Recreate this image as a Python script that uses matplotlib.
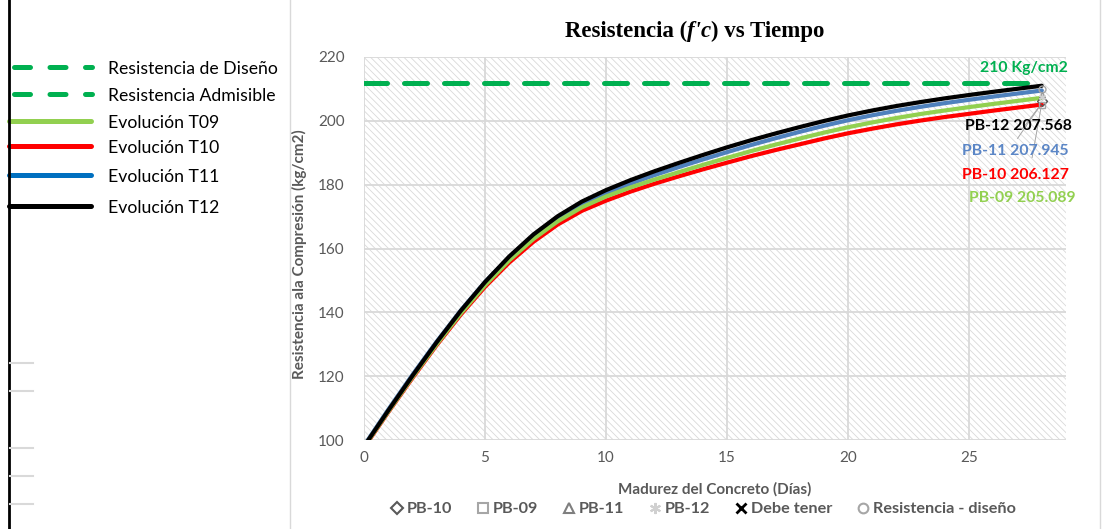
import matplotlib.pyplot as plt
import numpy as np
from matplotlib.lines import Line2D
from matplotlib.patches import Rectangle

# ---- data ----
days = list(range(29))
evol_t09 = [97.8, 108.9, 119.7, 130.0, 139.7, 148.5, 156.3, 163.0, 168.5, 172.9,
            176.3, 179.1, 181.6, 183.9, 186.2, 188.4, 190.55, 192.55, 194.45, 196.3,
            198.0, 199.5, 200.9, 202.15, 203.25, 204.3, 205.3, 206.25, 207.2]
evol_t10 = [97.6, 108.7, 119.4, 129.7, 139.3, 148.0, 155.6, 162.1, 167.5, 171.8,
            175.0, 177.8, 180.3, 182.6, 184.8, 186.9, 188.95, 190.85, 192.65, 194.45,
            196.1, 197.55, 198.9, 200.1, 201.2, 202.2, 203.2, 204.15, 205.1]
evol_t11 = [98.2, 109.5, 120.4, 130.8, 140.6, 149.5, 157.3, 164.0, 169.5, 173.9,
            177.3, 180.3, 183.0, 185.5, 187.9, 190.2, 192.45, 194.55, 196.55, 198.45,
            200.2, 201.75, 203.15, 204.4, 205.55, 206.6, 207.6, 208.55, 209.5]
evol_t12 = [98.0, 109.2, 120.1, 130.6, 140.5, 149.5, 157.5, 164.4, 170.1, 174.7,
            178.3, 181.4, 184.2, 186.8, 189.3, 191.7, 193.95, 196.05, 198.05, 199.95,
            201.7, 203.25, 204.65, 205.9, 207.05, 208.1, 209.1, 210.05, 211.0]

design_days = [0, 28]
design_value = [212, 212]

# test results at 28 days
pb_names = ['PB-10', 'PB-09', 'PB-11', 'PB-12']
pb_values = [206.127, 205.089, 207.945, 207.568]
debe_tener = 210
test_day = 28

xticks = [0, 5, 10, 15, 20, 25]
yticks = [100, 120, 140, 160, 180, 200, 220]

GRAY = '#595959'
GREEN = '#00B050'
FONT = 'Lato'

plt.rcParams['font.family'] = [FONT, 'DejaVu Sans']
plt.rcParams['hatch.color'] = '#D9D9D9'
plt.rcParams['hatch.linewidth'] = 0.6

W, H = 1113, 529
fig = plt.figure(figsize=(W / 100, H / 100), dpi=100)

# pixel overlay for decorations
ov = fig.add_axes([0, 0, 1, 1])
ov.set_xlim(0, W)
ov.set_ylim(H, 0)
ov.axis('off')

# main plot area
ax = fig.add_axes([364 / W, 1 - 440 / H, (1066 - 364) / W, (440 - 57) / H])
ax.add_patch(Rectangle((0, 0), 1, 1, transform=ax.transAxes, facecolor='white',
                       edgecolor='#D9D9D9', hatch='\\' * 5, linewidth=0, zorder=0))
ax.set_xlim(0, 29)
ax.set_ylim(100, 220)
ax.set_xticks(xticks)
ax.set_yticks(yticks)
ax.grid(True, color='#D9D9D9', linewidth=1.3)
ax.set_axisbelow(True)
for s in ax.spines.values():
    s.set_visible(False)
ax.tick_params(length=0, labelsize=11, labelcolor=GRAY)
ax.tick_params(axis='x', pad=8)
ax.tick_params(axis='y', pad=14)

# design / admissible line
ax.plot(design_days, design_value, color=GREEN, lw=3.6, dashes=(4.6, 3.4),
        dash_capstyle='round', zorder=3)

# evolution curves
ax.plot(days, evol_t11, color='#4F81BD', lw=3, solid_capstyle='round', zorder=4)
ax.plot(days, evol_t10, color='#FF0000', lw=3, solid_capstyle='round', zorder=4)
ax.plot(days, evol_t09, color='#92D050', lw=3, solid_capstyle='round', zorder=4)
ax.plot(days, evol_t12, color='black', lw=3, solid_capstyle='round', zorder=5)

# test markers at 28 days
mk = ['D', 's', '^', (6, 2, 0)]
mk_col = ['#595959', '#A6A6A6', '#7F7F7F', '#D0D0D0']
for m, c, v in zip(mk, mk_col, pb_values):
    ax.plot([test_day], [v], marker=m, ms=5, mfc='none', mec=c, mew=1, ls='none', zorder=6)
ax.plot([test_day], [debe_tener], marker='o', ms=5, mfc='none', mec='#A6A6A6', ls='none', zorder=6)

# leader lines
for xa, ya in [(27.2, 197.5), (27.0, 194.5), (27.6, 188.5)]:
    ax.plot([xa, test_day], [ya, 205.5], color='#A6A6A6', lw=0.7, zorder=2)

# data labels
lab_cols = ['#FF0000', '#92D050', '#5B86C6', 'black']
lab_y = [183.0, 175.8, 190.7, 198.3]
lab_x = [29.1, 29.4, 29.1, 29.25]
for n, v, c, xx, yy in zip(pb_names, pb_values, lab_cols, lab_x, lab_y):
    ax.text(xx, yy, f'{n} {v:.3f}', color=c, fontsize=11.3, fontweight='bold',
            ha='right', va='center', zorder=7, clip_on=False)
ax.text(27.25, 216.5, '210 Kg/cm2', color=GREEN, fontsize=11.3, fontweight='bold',
        ha='center', va='center', zorder=7)

ax.set_xlabel('Madurez del Concreto (Días)', fontsize=11, fontweight='bold',
              color=GRAY, labelpad=12)
ax.set_ylabel('Resistencia ala Compresión (kg/cm2)', fontsize=11, fontweight='bold',
              color=GRAY)
ax.yaxis.set_label_coords(-0.081, 0.486)

# title with italic f'c
t1 = ov.text(565, 31, 'Resistencia (', fontsize=16.5, fontweight='bold',
             family='Liberation Serif', ha='left', va='center')
t2 = ov.annotate("f'c", xy=(1, 0), xycoords=t1, va='bottom', ha='left', fontsize=16.5,
                 fontweight='bold', fontstyle='italic', family='Liberation Serif')
ov.annotate(') vs Tiempo', xy=(1, 0), xycoords=t2, va='bottom', ha='left', fontsize=16.5,
            fontweight='bold', family='Liberation Serif')

# bottom marker legend
handles = [
    Line2D([], [], marker='D', ms=6, mfc='none', mec='#595959', mew=1.5, ls='none'),
    Line2D([], [], marker='s', ms=7, mfc='none', mec='#A6A6A6', mew=1.5, ls='none'),
    Line2D([], [], marker='^', ms=7, mfc='none', mec='#7F7F7F', mew=1.5, ls='none'),
    Line2D([], [], marker=(6, 2, 0), ms=8, mfc='none', mec='#D0D0D0', mew=1.5, ls='none'),
    Line2D([], [], marker='x', ms=7, mfc='none', mec='black', mew=2, ls='none'),
    Line2D([], [], marker='o', ms=7, mfc='none', mec='#A6A6A6', mew=1.5, ls='none'),
]
labels = ['PB-10', 'PB-09', 'PB-11', 'PB-12', 'Debe tener', 'Resistencia - diseño']
leg = fig.legend(handles, labels, loc='center', bbox_to_anchor=(703 / W, 1 - 509 / H),
                 ncol=6, frameon=False, handlelength=0.8, handletextpad=0.2,
                 columnspacing=1.5, prop={'family': FONT, 'weight': 'bold', 'size': 11.7})
for t in leg.get_texts():
    t.set_color(GRAY)

# left legend
left_items = [
    (67, GREEN, True, 'Resistencia de Diseño'),
    (94, GREEN, True, 'Resistencia Admisible'),
    (121, '#92D050', False, 'Evolución T09'),
    (146, '#FF0000', False, 'Evolución T10'),
    (175, '#0070C0', False, 'Evolución T11'),
    (206, 'black', False, 'Evolución T12'),
]
for y, c, dashed, txt in left_items:
    if dashed:
        ov.plot([14, 92], [y, y], color=c, lw=3.6, dashes=(3.2, 3.9), dash_capstyle='round')
    else:
        ov.plot([9, 91], [y, y], color=c, lw=3.6, solid_capstyle='round')
    ov.text(108, y + 2, txt, fontsize=12.7, ha='left', va='center', color='black')

# frame decorations
ov.plot([9, 9], [0, H], color='black', lw=2)
for y in [363, 391, 448, 476, 504]:
    ov.plot([10, 33], [y, y], color='#D9D9D9', lw=1.5)
ov.plot([290, 290], [0, H], color='#D9D9D9', lw=1)
ov.plot([1100, 1100], [0, H], color='#D9D9D9', lw=1)

fig.savefig('out.png', dpi=100)
